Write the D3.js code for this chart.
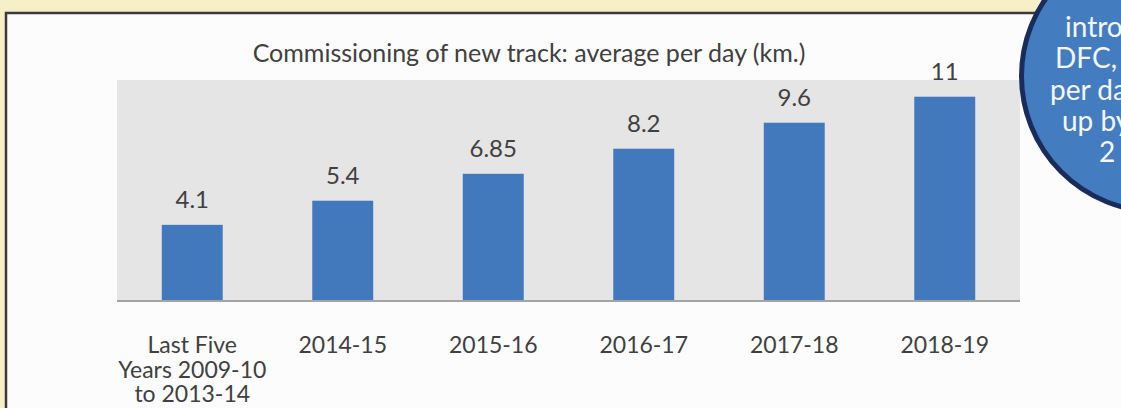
<!DOCTYPE html>
<html>
<head>
<meta charset="utf-8">
<script src="https://cdn.jsdelivr.net/npm/d3@7"></script>
<style>
  html, body { margin: 0; padding: 0; background: #f6efc8; overflow: hidden; }
  svg { display: block; }
  text { font-family: Lato, "Open Sans", sans-serif; }
</style>
</head>
<body>
<div id="chart"></div>
<script>
// chart values
var categories = [["Last Five", "Years 2009-10", "to 2013-14"], ["2014-15"], ["2015-16"], ["2016-17"], ["2017-18"], ["2018-19"]];
var kmPerDay = [4.1, 5.4, 6.85, 8.2, 9.6, 11];
var valueLabels = ["4.1", "5.4", "6.85", "8.2", "9.6", "11"];
var chartTitle = "Commissioning of new track: average per day (km.)";
var bubbleLines = ["introduction", "DFC, the", "per day", "up by", "2"];

var width = 1121, height = 408;
var plot = {left: 117, right: 1020, top: 80, bottom: 301};

var svg = d3.select("#chart").append("svg")
  .attr("width", width).attr("height", height);

// white panel with dark frame
svg.append("rect")
  .attr("x", 6).attr("y", 13).attr("width", width).attr("height", height)
  .attr("fill", "#fcfcfc").attr("stroke", "#3b3b3b").attr("stroke-width", 2.5);

// grey plot area
svg.append("rect")
  .attr("x", plot.left).attr("y", plot.top)
  .attr("width", plot.right - plot.left).attr("height", plot.bottom - plot.top)
  .attr("fill", "#e5e5e5");

var x = d3.scaleBand()
  .domain(d3.range(categories.length))
  .range([plot.left, plot.right])
  .paddingInner(0.595)
  .paddingOuter(0.2975);

var y = d3.scaleLinear()
  .domain([0, 11.9])
  .range([plot.bottom, plot.top]);

svg.append("g").selectAll("rect")
  .data(kmPerDay)
  .enter().append("rect")
  .attr("x", function(d, i) { return x(i); })
  .attr("y", function(d) { return y(d); })
  .attr("width", x.bandwidth())
  .attr("height", function(d) { return y(0) - y(d); })
  .attr("fill", "#4279bd");

// baseline
svg.append("line")
  .attr("x1", plot.left).attr("x2", plot.right)
  .attr("y1", plot.bottom).attr("y2", plot.bottom)
  .attr("stroke", "#a3a3a3").attr("stroke-width", 2);

// value labels
svg.append("g").selectAll("text")
  .data(kmPerDay)
  .enter().append("text")
  .attr("x", function(d, i) { return x(i) + x.bandwidth() / 2; })
  .attr("y", function(d) { return y(d) - 17; })
  .attr("text-anchor", "middle")
  .attr("font-size", 24)
  .attr("fill", "#404040")
  .text(function(d, i) { return valueLabels[i]; });

// category labels
var catText = svg.append("g").selectAll("text")
  .data(categories)
  .enter().append("text")
  .attr("text-anchor", "middle")
  .attr("font-size", 23)
  .attr("fill", "#404040");
catText.selectAll("tspan")
  .data(function(d, i) { return d.map(function(s) { return {s: s, i: i}; }); })
  .enter().append("tspan")
  .attr("x", function(d) { return x(d.i) + x.bandwidth() / 2; })
  .attr("y", function(d, j) { return 353 + j * 24.5; })
  .text(function(d) { return d.s; });

// title
svg.append("text")
  .attr("x", 529).attr("y", 62)
  .attr("text-anchor", "middle")
  .attr("font-size", 25)
  .attr("fill", "#404040")
  .text(chartTitle);

// blue bubble on the right
svg.append("circle")
  .attr("cx", 1157).attr("cy", 76).attr("r", 135.5)
  .attr("fill", "#447cc0").attr("stroke", "#1a2c5c").attr("stroke-width", 5);

var bubbleX = [1065, 1055, 1050, 1062, 1099];
svg.append("g").selectAll("text")
  .data(bubbleLines)
  .enter().append("text")
  .attr("x", function(d, i) { return bubbleX[i]; })
  .attr("y", function(d, i) { return 37 + i * 31.3; })
  .attr("font-size", 28)
  .attr("fill", "#f4f7fb")
  .text(function(d) { return d; });
</script>
</body>
</html>
